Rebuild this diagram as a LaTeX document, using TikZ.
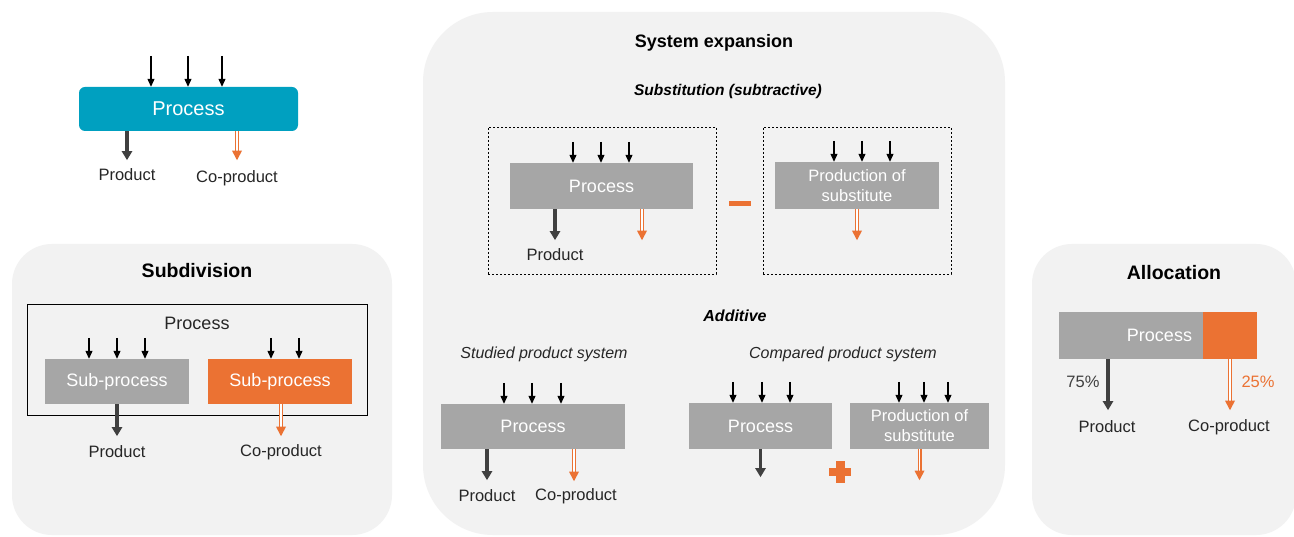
\documentclass[tikz,border=0pt]{standalone}
\usepackage{fontspec}
\setmainfont{Liberation Sans}
\usetikzlibrary{arrows.meta,calc}
\definecolor{cyanbox}{HTML}{00A0C0}
\definecolor{graybox}{HTML}{A6A6A6}
\definecolor{orangec}{HTML}{EB7233}
\definecolor{panelbg}{HTML}{F2F2F2}
\definecolor{darkarr}{HTML}{404040}
\definecolor{txt}{HTML}{262626}
\newcommand\coarr[2]{%
  \draw[coshaft] #1 -- ++(0,#2-8);
  \fill[orangec] #1 ++(-5,#2-9.5) -- ++(10,0) -- ++(-5,9.5) -- cycle;}
\newcommand\inarrs[3]{% node, length, list of dx
  \foreach \dx in {#3} \draw[inarr] ([xshift=\dx]#1.north) ++(0,-#2) -- ++(0,#2);}
\begin{document}
\begin{tikzpicture}[x=1pt,y=-1pt,
  box/.style={fill=graybox, draw=none, text=white, inner sep=0pt, align=center,
    font=\fontsize{18}{20}\selectfont},
  obox/.style={box, fill=orangec},
  lbl/.style={text=txt, inner sep=0pt, font=\fontsize{16.5}{20}\selectfont},
  ttl/.style={text=black, inner sep=0pt, font=\fontsize{19.5}{22}\selectfont\bfseries},
  sttl/.style={text=black, inner sep=0pt, font=\fontsize{16}{20}\selectfont\bfseries\itshape},
  ital/.style={text=txt, inner sep=0pt, font=\fontsize{16}{20}\selectfont\itshape},
  inarr/.style={draw=black, line width=1.1pt, -{Triangle[width=7pt,length=8pt]}},
  prod/.style={draw=darkarr, line width=3.5pt, -{Triangle[width=10pt,length=9pt]}},
  coshaft/.style={draw=orangec, line width=1.1pt, double=white, double distance=1.8pt},
  dbox/.style={draw=black, line width=0.8pt, dash pattern=on 2pt off 2pt}
]
\useasboundingbox (0,0) rectangle (1294,537);
\fill[white] (0,0) rectangle (1294,537);

% ---------- panels ----------
\fill[panelbg, rounded corners=40] (12,244) rectangle (392,535);
\fill[panelbg, rounded corners=70] (423,12) rectangle (1005,535);
\fill[panelbg, rounded corners=40] (1032,244) rectangle (1296,535);

% ---------- top-left process ----------
\node[fill=cyanbox, rounded corners=6, minimum width=219, minimum height=44, text=white,
  inner sep=0pt, font=\fontsize{20}{22}\selectfont] (tp) at (188.5,109) {Process};
\inarrs{tp}{31}{-37.5,-0.5,33.5}
\draw[prod] ([xshift=-61.5]tp.south) -- ++(0,29);
\coarr{([xshift=48.5]tp.south)}{29}
\node[lbl] (tpp) at (127,175) {Product};
\node[lbl] (tpc) at (237,178) {Co-product};

% ---------- subdivision ----------
\node[ttl] (subt) at (197,271) {Subdivision};
\node[draw=black, line width=1pt, minimum width=340, minimum height=111, inner sep=0pt] (subo) at (197,360.5) {};
\node[lbl, font=\fontsize{18}{20}\selectfont] (subpl) at (197,323) {Process};
\node[box, minimum width=144, minimum height=45] (sg) at (117,381.5) {Sub-process};
\node[obox, minimum width=144, minimum height=45] (so) at (280,381.5) {Sub-process};
\inarrs{sg}{21}{-28,0,28}
\inarrs{so}{21}{-9,19}
\draw[prod] (sg.south) -- ++(0,32);
\coarr{([xshift=1]so.south)}{32}
\node[lbl] (subp) at (117,452) {Product};
\node[lbl] (subc) at (281,452) {Co-product};

% ---------- system expansion ----------
\node[ttl, font=\fontsize{18}{22}\selectfont\bfseries] (set) at (714,43) {System expansion};
\node[sttl, font=\fontsize{15.5}{20}\selectfont\bfseries\itshape] (subst) at (728,91) {Substitution (subtractive)};
\node[dbox, minimum width=228, minimum height=147, inner sep=0pt] (db1) at (602,200.5) {};
\node[dbox, minimum width=188, minimum height=147, inner sep=0pt] (db2) at (857,200.5) {};
\node[box, minimum width=183, minimum height=46] (sp1) at (601.5,186) {Process};
\inarrs{sp1}{21}{-28.5,-0.5,27.5}
\draw[prod] ([xshift=-46.5]sp1.south) -- ++(0,31);
\coarr{([xshift=40.5]sp1.south)}{31}
\node[lbl] (sp1p) at (555,255) {Product};
\node[fill=orangec, minimum width=22, minimum height=5, inner sep=0pt] (minus) at (740,203.5) {};
\node[box, minimum width=164, minimum height=47, font=\fontsize{16.5}{20}\selectfont] (ps1) at (857,185.5) {Production of\\substitute};
\inarrs{ps1}{21}{-23,5,33}
\coarr{(ps1.south)}{31}

\node[sttl] (add) at (735,316) {Additive};
\node[ital] (stud) at (544,354) {Studied product system};
\node[ital] (comp) at (843,354) {Compared product system};

\node[box, minimum width=184, minimum height=45] (sp2) at (533,426.5) {Process};
\inarrs{sp2}{21}{-29,-1,28}
\draw[prod] ([xshift=-46]sp2.south) -- ++(0,31);
\coarr{([xshift=41]sp2.south)}{32}
\node[lbl] (sp2p) at (487,496) {Product};
\node[lbl] (sp2c) at (576,496) {Co-product};

\node[box, minimum width=143, minimum height=46] (cp) at (760.5,426) {Process};
\inarrs{cp}{21}{-27.5,1.5,29.5}
\draw[prod] (cp.south) -- ++(0,28);
\node[fill=orangec, minimum width=22, minimum height=8, inner sep=0pt] (plush) at (840,472) {};
\node[fill=orangec, minimum width=9, minimum height=22, inner sep=0pt] (plusv) at (840,472) {};
\node[box, minimum width=139, minimum height=46, font=\fontsize{16.5}{20}\selectfont] (ps2) at (919.5,426) {Production of\\substitute};
\inarrs{ps2}{21}{-20.5,4.5,28.5}
\coarr{(ps2.south)}{31}

% ---------- allocation ----------
\node[ttl] (allt) at (1174,273) {Allocation};
\node[box, minimum width=144, minimum height=47, text width=122, align=right] (ap) at (1131,335.5) {Process};
\node[obox, minimum width=54, minimum height=47] (ao) at (1230,335.5) {};
\draw[prod] ([xshift=-23]ap.south) -- ++(0,51);
\coarr{(ao.south)}{51}
\node[lbl, text=darkarr] (a75) at (1083,382) {75\%};
\node[lbl, text=orangec] (a25) at (1258,382) {25\%};
\node[lbl] (alp) at (1107,427) {Product};
\node[lbl] (alc) at (1229,427) {Co-product};
\end{tikzpicture}
\end{document}
